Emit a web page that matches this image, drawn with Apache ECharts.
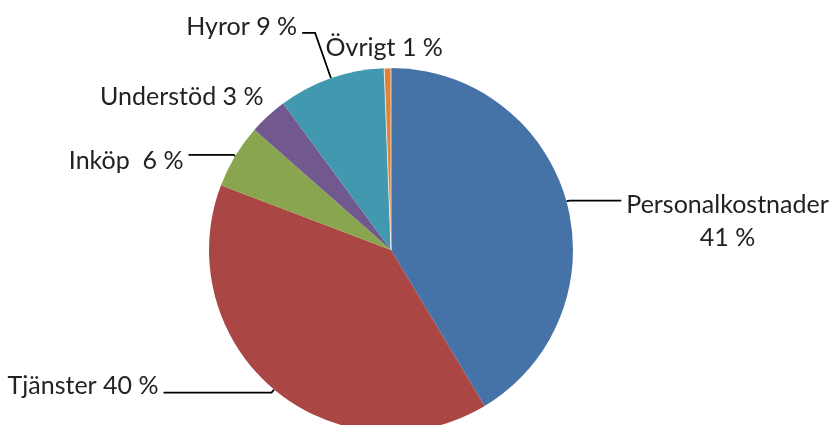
<!DOCTYPE html>
<html>
<head>
<meta charset="utf-8">
<script src="https://cdn.jsdelivr.net/npm/echarts@6/dist/echarts.min.js"></script>
<style>
  html, body { margin: 0; padding: 0; background: #fff; }
  #chart { width: 832px; height: 425px; }
</style>
</head>
<body>
<div id="chart"></div>
<script>
const CATEGORIES = ['Personalkostnader', 'Tjänster', 'Inköp', 'Understöd', 'Hyror', 'Övrigt'];
const VALUES = [41.4, 39.4, 5.7, 3.4, 9.5, 0.6];
const LABEL_TEXTS = ['{c|Personalkostnader}\n{c|41 %}', 'Tjänster 40 %', 'Inköp  6 %', 'Understöd 3 %', 'Hyror 9 %', 'Övrigt 1 %'];
const COLORS = ['#4572A7', '#AA4643', '#89A54E', '#71588F', '#4198AF', '#DB843D'];

// per-slice leader settings
const LINE_LEN = [3, 4, 2, 26, 48, 20];
const LINE_LEN2 = [52, 108, 45, 0, 13, 0];
const SHOW_LINE = [true, true, true, false, true, false];
const LABEL_PAD = [[42, 0, 0, 0], [0, 0, 14, 0], [12, 0, 0, 0], [0, 0, 0, 0], [0, 0, 12, 0], [0, 0, 0, 0]];

const chart = echarts.init(document.getElementById('chart'), null, { renderer: 'canvas' });

const pieData = CATEGORIES.map((name, i) => ({
    name: name,
    value: VALUES[i],
    itemStyle: i === 5 ? { color: COLORS[i], borderColor: 'rgba(255,255,255,0.7)', borderWidth: 1 } : { color: COLORS[i] },
    label: { padding: LABEL_PAD[i] },
    labelLine: { show: SHOW_LINE[i], length: LINE_LEN[i], length2: LINE_LEN2[i] }
}));

chart.setOption({
    animation: false,
    backgroundColor: '#fff',
    textStyle: { fontFamily: 'Lato, sans-serif' },
    series: [{
        type: 'pie',
        center: [391, 250],
        radius: 182,
        startAngle: 90,
        clockwise: true,
        avoidLabelOverlap: false,
        data: pieData,
        label: {
            show: true,
            position: 'outside',
            color: '#222',
            fontFamily: 'Lato, sans-serif',
            fontSize: 25,
            distanceToLabelLine: 5,
            formatter: params => LABEL_TEXTS[params.dataIndex],
            rich: {
                c: { align: 'center', fontSize: 25, lineHeight: 33, color: '#222', fontFamily: 'Lato, sans-serif' }
            }
        },
        labelLine: {
            lineStyle: { color: '#000', width: 1.8 }
        },
        labelLayout: params => {
            if (params.dataIndex === 3) return { dx: 18 };
            if (params.dataIndex === 5) return { align: 'center', dx: 2 };
        },
        emphasis: { disabled: true }
    }]
});
</script>
</body>
</html>
